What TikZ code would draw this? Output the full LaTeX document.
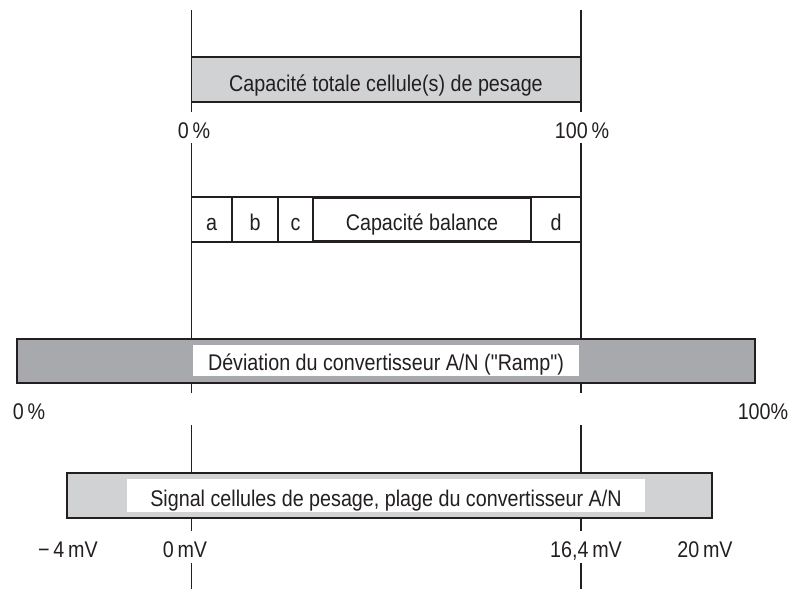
\documentclass[tikz,border=0pt]{standalone}
\usepackage{fontspec}
\setmainfont{Liberation Sans}[FakeStretch=0.87, Ligatures=TeXOff]
\definecolor{ink}{HTML}{231F20}
\definecolor{lightgrey}{HTML}{D1D2D4}
\definecolor{darkgrey}{HTML}{A7A9AC}
\begin{document}
\begin{tikzpicture}[x=0.75pt, y=-0.75pt, line width=1pt, draw=ink,
    txt/.style={font=\fontsize{17}{20}\selectfont, text=ink, inner sep=0pt, anchor=base},
    cellbox/.style={draw=ink, line width=1pt},
    strongbox/.style={draw=ink, line width=2pt}]
    \useasboundingbox (0,0) rectangle (794,589);

    % the vertical lines at 0 % and 100 %
    \foreach \x in {191.5, 581}
    \foreach \a/\b in {10/112, 143/393, 425/531, 563/589}
    \draw[ink] (\x,\a) -- (\x,\b);

    % the rectangle of the load cell capacity
    \draw[cellbox, fill=lightgrey] (191.5,57) rectangle (581,102);
    \node[txt] (total) at (386,91) {Capacité totale cellule(s) de pesage};
    % The labels below it
    \node[txt] (top0) at (194,138) {0\,\%};
    \node[txt] (top100) at (582,138) {100\,\%};

    % the row a, b, c, balance, d
    \draw[cellbox, fill=white] (191.5,197) rectangle (581,242);
    \foreach \x in {232, 278}
    \draw[ink] (\x,197) -- (\x,242);
    \draw[strongbox] (313,198) rectangle (531,241);
    \node[txt] (a) at (211.5,230) {a};
    \node[txt] (b) at (255,230) {b};
    \node[txt] (c) at (295.5,230) {c};
    \node[txt] (balance) at (422,230) {Capacité balance};
    \node[txt] (d) at (556,230) {d};

    % the dark bar of the converter
    \draw[cellbox, fill=darkgrey] (17,339) rectangle (755,383);
    \fill[white] (192.5,345) rectangle (579,376);
    \node[txt] (ramp) at (386,370) {Déviation du convertisseur A/N ("Ramp")};
    % The labels below the dark bar
    \node[txt] (ramp0) at (29,419) {0\,\%};
    \node[txt] (ramp100) at (763,419) {100\%};

    % the bar of the load cell signal
    \draw[cellbox, fill=lightgrey] (67,473) rectangle (712,518);
    \fill[white] (127,479) rectangle (645,512);
    \node[txt] (signal) at (386,506) {Signal cellules de pesage, plage du convertisseur A/N};

    % The mV labels
    \node[txt] (mvneg) at (68,557) {−\,4\,mV};
    \node[txt] (mvzero) at (185,557) {0\,mV};
    \node[txt] (mvtop) at (586,557) {16,4\,mV};
    \node[txt] (mvmax) at (705,557) {20\,mV};
\end{tikzpicture}
\end{document}
